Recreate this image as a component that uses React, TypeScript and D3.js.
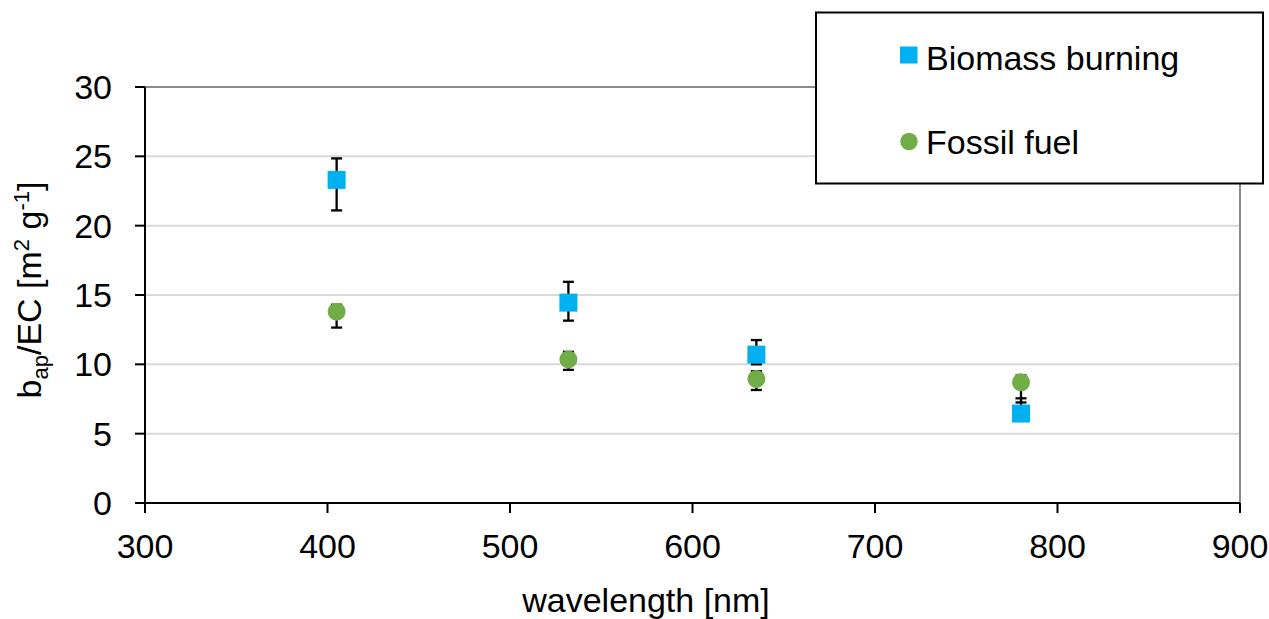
import React from 'react';
import * as d3 from 'd3';

// data
const wavelengths = [405, 532, 635, 780];
const biomass = [23.3, 14.45, 10.7, 6.45];
const biomassLo = [21.1, 13.15, 10.0, 6.1];
const biomassHi = [24.85, 15.95, 11.75, 7.55];
const fossil = [13.8, 10.35, 8.95, 8.7];
const fossilLo = [12.65, 9.6, 8.15, 7.25];
const fossilHi = [14.3, 10.9, 9.5, 9.2];
const xTicks = [300, 400, 500, 600, 700, 800, 900];
const yTicks = [0, 5, 10, 15, 20, 25, 30];
const seriesNames = ['Biomass burning', 'Fossil fuel'];

// constants
const width = 1269;
const height = 619;
const margin = { top: 87, right: 29, bottom: 116, left: 145 };
const font = '"Liberation Sans", Arial, sans-serif';
const fs = 34;
const blue = '#00b0f0';
const green = '#70ad47';

const App = () => {
  const xScale = d3.scaleLinear().domain([300, 900]).range([margin.left, width - margin.right]);
  const yScale = d3.scaleLinear().domain([0, 30]).range([height - margin.bottom, margin.top]);
  const x0 = xScale(300), x1 = xScale(900);
  const y0 = yScale(0), y1 = yScale(30);

  const errBar = (x: number, lo: number, hi: number, key: string) => (
    <g key={key} stroke="#000" strokeWidth={2.3}>
      <line x1={x} x2={x} y1={yScale(lo)} y2={yScale(hi)} />
      <line x1={x - 5.5} x2={x + 5.5} y1={yScale(lo)} y2={yScale(lo)} />
      <line x1={x - 5.5} x2={x + 5.5} y1={yScale(hi)} y2={yScale(hi)} />
    </g>
  );

  return (
    <div style={{ position: 'absolute', left: 0, top: 0 }}>
      <svg width={width} height={height} style={{ display: 'block', fontFamily: font }}>
        <rect width={width} height={height} fill="#fff" />
        {/* gridlines */}
        {yTicks.filter(t => t > 0 && t < 30).map(t => (
          <line key={t} x1={x0} x2={x1} y1={yScale(t)} y2={yScale(t)} stroke="#d9d9d9" strokeWidth={2} />
        ))}
        {/* frame top / right */}
        <line x1={x0} x2={x1} y1={y1} y2={y1} stroke="#898989" strokeWidth={2} />
        <line x1={x1} x2={x1} y1={y1} y2={y0} stroke="#898989" strokeWidth={2} />
        {/* axes */}
        <line x1={x0} x2={x1} y1={y0} y2={y0} stroke="#000" strokeWidth={2} />
        <line x1={x0} x2={x0} y1={y1} y2={y0} stroke="#000" strokeWidth={2} />
        {xTicks.map(t => (
          <g key={t}>
            <line x1={xScale(t)} x2={xScale(t)} y1={y0} y2={y0 + 10} stroke="#000" strokeWidth={2} />
            <text x={xScale(t)} y={y0 + 55} textAnchor="middle" fontSize={fs} fill="#000">{t}</text>
          </g>
        ))}
        {yTicks.map(t => (
          <g key={t}>
            <line x1={x0 - 10} x2={x0} y1={yScale(t)} y2={yScale(t)} stroke="#000" strokeWidth={2} />
            <text x={x0 - 33} y={yScale(t) + 12} textAnchor="end" fontSize={fs} fill="#000">{t}</text>
          </g>
        ))}
        {/* axis titles */}
        <text x={646} y={612} textAnchor="middle" fontSize={fs} fill="#000">wavelength [nm]</text>
        <text transform="translate(41,290) rotate(-90)" textAnchor="middle" fontSize={fs} fill="#000">
          b<tspan fontSize={22} dy={7}>ap</tspan>
          <tspan dy={-7}>/EC [m</tspan>
          <tspan fontSize={22} dy={-12}>2</tspan>
          <tspan dy={12}> g</tspan>
          <tspan fontSize={22} dy={-12}>-1</tspan>
          <tspan dy={12}>]</tspan>
        </text>
        {/* error bars */}
        {wavelengths.map((w, i) => errBar(xScale(w), biomassLo[i], biomassHi[i], 'b' + i))}
        {wavelengths.map((w, i) => errBar(xScale(w), fossilLo[i], fossilHi[i], 'f' + i))}
        {/* markers */}
        {wavelengths.map((w, i) => (
          <rect key={'bm' + i} x={xScale(w) - 9} y={yScale(biomass[i]) - 9} width={18} height={18} fill={blue} />
        ))}
        {wavelengths.map((w, i) => (
          <circle key={'fm' + i} cx={xScale(w)} cy={yScale(fossil[i])} r={9} fill={green} />
        ))}
        {/* legend */}
        <rect x={816} y={12.5} width={447} height={171} fill="#fff" stroke="#000" strokeWidth={2} />
        <rect x={900} y={46.5} width={17.5} height={17} fill={blue} />
        <text x={926} y={70} fontSize={fs} fill="#000">{seriesNames[0]}</text>
        <circle cx={909} cy={141.5} r={8.7} fill={green} />
        <text x={926} y={154} fontSize={fs} fill="#000">{seriesNames[1]}</text>
      </svg>
    </div>
  );
};

export default App;
